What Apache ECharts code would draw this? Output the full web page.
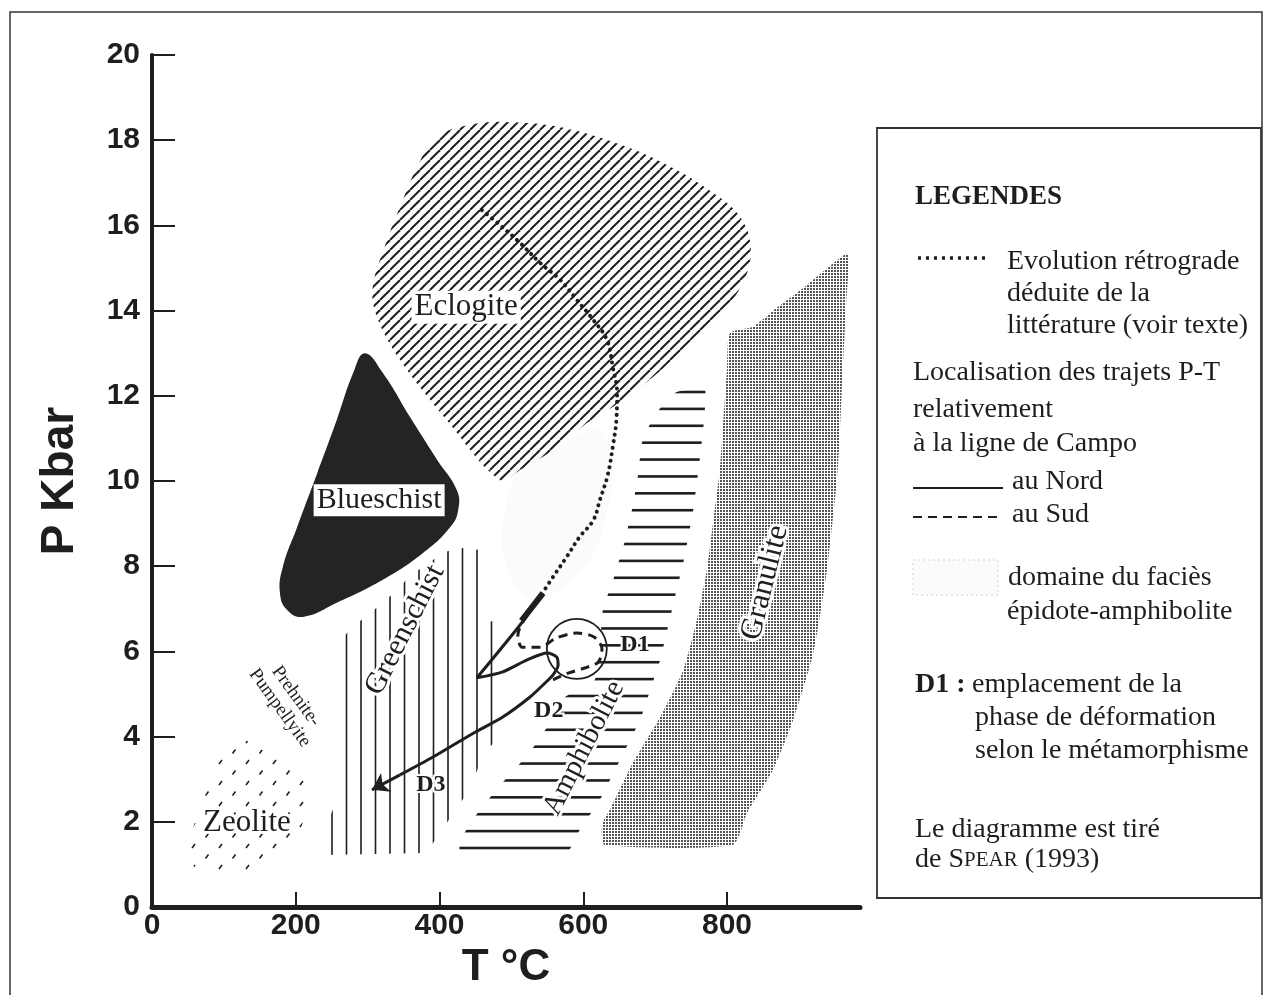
<!DOCTYPE html>
<html><head><meta charset="utf-8">
<script src="https://cdn.jsdelivr.net/npm/echarts@6/dist/echarts.min.js"></script>
<style>html,body{margin:0;padding:0;background:#fff}#c{width:1264px;height:995px}</style>
</head><body><div id="c"></div>
<script>
// ---------- data (T in °C, P in kbar) ----------
const tempTicks = [0, 200, 400, 600, 800];
const pressTicks = [0, 2, 4, 6, 8, 10, 12, 14, 16, 18, 20];

const eclogite = [[370,17.42],[396,18.08],[442,18.36],[488,18.43],[568,18.31],[661,17.84],[730,17.30],[781,16.76],[814,16.29],[832,15.66],[828,14.88],[800,14.08],[753,13.31],[697,12.44],[641,11.74],[605,11.36],[558,10.73],[512,10.26],[484,10.02],[410,11.43],[345,12.84],[313,13.85],[307,14.55],[327,15.66],[349,16.60]];
const blueschist = [[296,13.00],[321,12.54],[359,11.50],[397,10.49],[424,9.79],[426,9.32],[415,8.92],[377,8.31],[321,7.68],[257,7.14],[210,6.81],[188,6.97],[178,7.37],[182,7.98],[202,8.92],[230,10.19],[257,11.43],[280,12.54]];
const greenschist = [[242,1.22],[242,1.90],[262,2.70],[262,6.27],[281,6.60],[302,6.88],[321,7.14],[341,7.44],[362,7.84],[381,8.00],[402,8.31],[422,8.40],[442,8.45],[462,8.33],[462,6.71],[480,6.71],[480,3.92],[462,3.64],[442,2.75],[422,2.28],[402,1.76],[381,1.27]];
const amphibolite = [[730,12.09],[769,12.14],[768,11.43],[762,10.49],[753,9.32],[740,8.15],[723,6.95],[707,5.80],[693,5.09],[679,4.39],[651,3.45],[623,2.51],[595,1.81],[577,1.29],[429,1.29],[429,1.57],[454,2.23],[491,2.98],[526,3.64],[550,4.23],[575,4.93],[616,5.33],[623,6.03],[627,6.95],[643,7.75],[657,8.54],[668,9.34],[676,10.12],[682,10.92],[693,11.34],[707,11.71]];
const granulite = [[804,13.47],[836,13.62],[870,14.08],[902,14.48],[936,14.95],[968,15.33],[966,14.25],[961,12.61],[954,10.26],[939,7.91],[920,5.96],[892,4.39],[864,3.22],[828,2.21],[808,1.46],[630,1.46],[626,1.92],[637,2.28],[669,3.38],[707,4.46],[739,5.56],[758,6.74],[772,7.91],[781,9.08],[790,10.26],[794,11.20],[800,12.61]];
const zeolite = [[115,3.99],[153,3.69],[192,3.22],[220,2.75],[213,2.16],[196,1.46],[157,1.06],[102,0.70],[60,0.92],[50,1.46],[67,2.28],[81,2.98],[95,3.57]];
const epidoteAmph = [[512,10.26],[568,10.85],[623,11.20],[640,10.26],[630,9.08],[609,8.15],[568,7.44],[526,7.21],[491,8.15],[491,9.32]];

const retroPath = [[459,16.36],[484,16.01],[512,15.59],[540,15.12],[568,14.72],[591,14.25],[614,13.78],[633,13.31],[641,12.68],[647,12.07],[646,11.43],[641,10.80],[634,10.14],[623,9.55],[614,9.08],[595,8.69],[577,8.22],[558,7.75],[544,7.39]];
const northPath = [[544,7.37],[512,6.62],[452,5.38],[488,5.52],[522,5.80],[550,5.96],[563,5.87],[565,5.68],[558,5.45],[547,5.26],[526,4.93],[488,4.46],[447,4.08],[391,3.52],[345,3.10]];
const northArrow = [[345,3.10],[306,2.75]];
const northBold = [[544,7.37],[514,6.72]];
const southPath = [[534,7.14],[509,6.38],[515,6.10],[540,6.10],[562,6.31],[591,6.43],[615,6.34],[626,6.06],[621,5.75],[602,5.61],[579,5.49],[558,5.33]];
const d1Circle = [[591,6.06]];

const labelText = ['Eclogite','Blueschist','Greenschist','Amphibolite','Granulite','Zeolite','Prehnite-\nPumpellyite','D1','D2','D3'];
const labelAt = [[437,14.08],[316,9.55],[352,6.50],[601,3.73],[853,7.61],[132,1.97],[189,4.81],[672,6.15],[552,4.60],[388,2.86]];

// ---------- patterns ----------
function pat(w, h, draw) {
  const c = document.createElement('canvas'); c.width = w; c.height = h;
  const g = c.getContext('2d'); draw(g);
  return { image: c, repeat: 'repeat' };
}
const INK = '#1e1e1e';
const eclPat = pat(10, 10, g => { g.strokeStyle = INK; g.lineWidth = 2;
  for (const o of [-10, 0, 10]) { g.beginPath(); g.moveTo(o, 10); g.lineTo(o + 10, 0); g.stroke(); } });
const grePat = pat(29, 4, g => { g.fillStyle = INK; g.fillRect(12.2, 0, 1.6, 4); g.fillRect(26.7, 0, 1.6, 4); });
const amphPat = pat(4, 152, g => { g.fillStyle = INK;
  for (let k = 0; k < 9; k++) { const y = (88 + k * 16.89) % 152; g.fillRect(0, y - 1.3, 4, 2.6); } });
const granPat = pat(3, 3, g => { g.fillStyle = '#555'; g.fillRect(0, 0, 2, 2); });
const zeoPat = pat(27, 21, g => { g.strokeStyle = INK; g.lineWidth = 1.6;
  g.beginPath(); g.moveTo(3, 8); g.lineTo(6, 4); g.stroke();
  g.beginPath(); g.moveTo(16.5, 18.5); g.lineTo(19.5, 14.5); g.stroke(); });

function region(pts, fill, smooth) {
  return {
    type: 'custom', coordinateSystem: 'cartesian2d', data: pts, silent: true, clip: false,
    renderItem: (params, api) => {
      if (params.dataIndex !== 0) return null;
      return { type: 'polygon', shape: { points: pts.map(p => api.coord(p)), smooth: smooth },
               style: { fill: fill, stroke: null } };
    }
  };
}

const SERIF = '"Liberation Serif", "Times New Roman", serif';
const SANS = '"Liberation Sans", Arial, sans-serif';

// per-label style: font, rotation (deg), knockout mode
const labelStyles = [
  { font: '31px ' + SERIF, rot: 0, box: true },
  { font: '30px ' + SERIF, rot: 0, box: true },
  { font: '30px ' + SERIF, rot: 63, halo: 6 },
  { font: '29px ' + SERIF, rot: 63, halo: 6 },
  { font: '31px ' + SERIF, rot: 76, halo: 6 },
  { font: '31px ' + SERIF, rot: 0, halo: 6 },
  { font: '19px ' + SERIF, rot: -54, lh: 20 },
  { font: 'bold 24px ' + SERIF, rot: 0, halo: 4 },
  { font: 'bold 24px ' + SERIF, rot: 0, halo: 4 },
  { font: 'bold 24px ' + SERIF, rot: 0, halo: 4 }
];

const labelSeries = {
  type: 'custom', coordinateSystem: 'cartesian2d', data: labelAt, silent: true, clip: false, z: 6,
  renderItem: (params, api) => {
    const i = params.dataIndex;
    const p = api.coord(labelAt[i]);
    const s = labelStyles[i];
    const base = { text: labelText[i], font: s.font, align: 'center', verticalAlign: 'middle', lineHeight: s.lh };
    const children = [];
    if (s.halo) children.push({ type: 'text', style: Object.assign({}, base, { fill: '#fff', stroke: '#fff', lineWidth: s.halo }) });
    const fg = Object.assign({}, base, { fill: INK });
    if (s.box) { fg.backgroundColor = '#fff'; fg.padding = [1, 3]; }
    children.push({ type: 'text', style: fg });
    return { type: 'group', x: p[0], y: p[1], rotation: s.rot * Math.PI / 180, children: children };
  }
};

function lineSer(data, style, smooth) {
  return { type: 'line', data: data, smooth: smooth, symbol: 'none', silent: true, clip: false,
           lineStyle: Object.assign({ color: INK, opacity: 1 }, style), z: 4 };
}

// ---------- legend (decoration) ----------
const LF = '28px ' + SERIF;
function txt(x, y, s, font) {
  return { type: 'text', silent: true, style: { text: s, x: x, y: y, font: font || LF, fill: INK,
    align: 'left', verticalAlign: 'middle', textAlign: 'left', textVerticalAlign: 'middle' } };
}
const graphics = [
  { type: 'rect', silent: true, shape: { x: 10, y: 12, width: 1252, height: 1000 }, style: { fill: 'none', stroke: '#333', lineWidth: 1.5 } },
  { type: 'rect', silent: true, shape: { x: 877, y: 128, width: 384, height: 770 }, style: { fill: 'none', stroke: '#333', lineWidth: 1.8 } },
  txt(915, 197, 'LEGENDES', 'bold 27px ' + SERIF),
  { type: 'line', silent: true, shape: { x1: 918, y1: 258, x2: 987, y2: 258 }, style: { stroke: INK, lineWidth: 3.5, lineDash: [3, 5] } },
  txt(1007, 262, 'Evolution rétrograde'),
  txt(1007, 294, 'déduite de la'),
  txt(1007, 326, 'littérature (voir texte)'),
  txt(913, 373, 'Localisation des trajets P-T'),
  txt(913, 410, 'relativement'),
  txt(913, 444, 'à la ligne de Campo'),
  { type: 'line', silent: true, shape: { x1: 913, y1: 488, x2: 1003, y2: 488 }, style: { stroke: INK, lineWidth: 2 } },
  txt(1012, 482, 'au Nord'),
  { type: 'line', silent: true, shape: { x1: 913, y1: 517, x2: 1003, y2: 517 }, style: { stroke: INK, lineWidth: 2, lineDash: [9, 6] } },
  txt(1012, 515, 'au Sud'),
  { type: 'rect', silent: true, shape: { x: 913, y: 560, width: 85, height: 35 }, style: { fill: '#fbfbfb', stroke: '#d0d0d0', lineWidth: 1, lineDash: [2, 3] } },
  txt(1008, 578, 'domaine du faciès'),
  txt(1007, 612, 'épidote-amphibolite'),
  txt(915, 685, 'D1 :', 'bold 28px ' + SERIF),
  txt(972, 685, 'emplacement de la'),
  txt(975, 718, 'phase de déformation'),
  txt(975, 751, 'selon le métamorphisme'),
  txt(915, 830, 'Le diagramme est tiré'),
  { type: 'text', silent: true, style: { text: '{a|de S}{b|PEAR}{a| (1993)}', x: 915, y: 860,
    align: 'left', verticalAlign: 'middle', textAlign: 'left', textVerticalAlign: 'middle',
    rich: { a: { font: LF, fill: INK }, b: { font: '21px ' + SERIF, fill: INK } } } }
];

const chart = echarts.init(document.getElementById('c'), null, { renderer: 'canvas', width: 1264, height: 995 });
chart.setOption({
  animation: false,
  backgroundColor: '#fff',
  grid: { left: 152, top: 55, right: 404, bottom: 88 },
  xAxis: {
    type: 'value', min: 0, max: 985, interval: 200,
    axisLine: { show: true, lineStyle: { color: INK, width: 5 } },
    axisTick: { show: true, inside: true, length: 15, lineStyle: { color: INK, width: 2 }, customValues: tempTicks.slice(1) },
    axisLabel: { customValues: tempTicks, fontSize: 30, fontWeight: 'bold', fontFamily: SANS, color: INK, margin: 4 },
    splitLine: { show: false },
    name: 'T °C', nameLocation: 'middle', nameGap: 33,
    nameTextStyle: { fontSize: 44, fontWeight: 'bold', fontFamily: SANS, color: INK }
  },
  yAxis: {
    type: 'value', min: 0, max: 20, interval: 2,
    axisLine: { show: true, lineStyle: { color: INK, width: 4 } },
    axisTick: { show: true, inside: true, length: 23, lineStyle: { color: INK, width: 2 }, customValues: pressTicks.slice(1) },
    axisLabel: { customValues: pressTicks, fontSize: 30, fontWeight: 'bold', fontFamily: SANS, color: INK, margin: 12 },
    splitLine: { show: false },
    name: 'P Kbar', nameLocation: 'middle', nameGap: 69, nameRotate: 90,
    nameTextStyle: { fontSize: 46, fontWeight: 'bold', fontFamily: SANS, color: INK }
  },
  graphic: graphics,
  series: [
    region(epidoteAmph, 'rgba(0,0,0,0.015)', 0.4),
    region(eclogite, eclPat, 0.35),
    region(granulite, granPat, 0.2),
    region(amphibolite, amphPat, 0.15),
    region(greenschist, grePat, 0),
    region(zeolite, zeoPat, 0.3),
    region(blueschist, '#242424', 0.45),
    { type: 'scatter', data: d1Circle, symbol: 'circle', symbolSize: 60, silent: true, z: 3,
      itemStyle: { color: 'rgba(0,0,0,0)', borderColor: INK, borderWidth: 1.8, opacity: 1 } },
    lineSer(retroPath, { width: 4, type: [0.1, 6.5], cap: 'round' }, 0.4),
    lineSer(northPath, { width: 3 }, 0.25),
    lineSer(northBold, { width: 6 }, 0),
    lineSer(southPath, { width: 3, type: [9, 6] }, 0.3),
    { type: 'lines', coordinateSystem: 'cartesian2d', silent: true, z: 4,
      data: [{ coords: northArrow }], symbol: ['none', 'arrow'], symbolSize: 16,
      lineStyle: { color: INK, width: 3, opacity: 1, curveness: 0 } },
    labelSeries
  ]
});
</script>
</body></html>
